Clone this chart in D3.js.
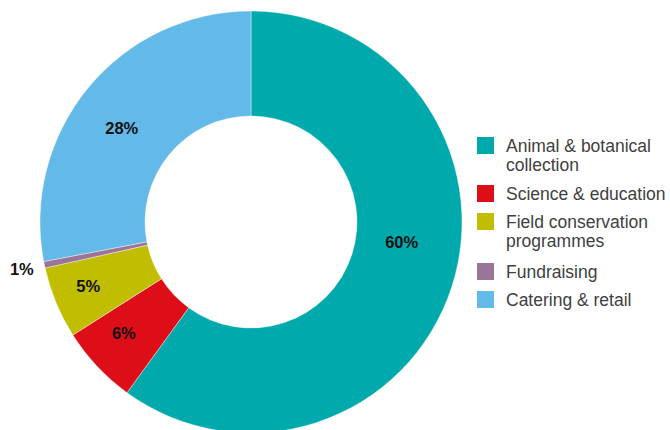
<!DOCTYPE html>
<html>
<head>
<meta charset="utf-8">
<script src="https://cdn.jsdelivr.net/npm/d3@7"></script>
<style>
  html, body { margin: 0; padding: 0; background: #fff; }
  svg { display: block; font-family: "Liberation Sans", Arial, Helvetica, sans-serif; }
</style>
</head>
<body>
<svg id="chart" width="670" height="430"></svg>
<script>
// spending split
var categories = ["Animal & botanical collection", "Science & education", "Field conservation programmes", "Fundraising", "Catering & retail"];
var legendLines = [["Animal & botanical", "collection"], ["Science & education"], ["Field conservation", "programmes"], ["Fundraising"], ["Catering & retail"]];
var values = [60, 6, 5.5, 0.5, 28];
var valueLabels = ["60%", "6%", "5%", "1%", "28%"];
var colours = ["#00a9ac", "#dd0e17", "#c1bd00", "#9b7598", "#63b9e8"];

var svg = d3.select("#chart");
var cx = 251, cy = 222;
var outerR = 211, innerR = 106;

var pie = d3.pie().sort(null).value(function(d) { return d; });
var arcs = pie(values);
var arc = d3.arc().innerRadius(innerR).outerRadius(outerR);

var g = svg.append("g").attr("transform", "translate(" + cx + "," + cy + ")");

g.selectAll("path")
  .data(arcs)
  .enter().append("path")
  .attr("d", arc)
  .attr("fill", function(d, i) { return colours[i]; })
  .attr("stroke", "#fff")
  .attr("stroke-width", 0.4);

// label placement: radius and angle nudge (degrees) per slice, like the original
var labelR = [152, 169, 175, 234, 160];
var labelTurn = [-10.5, 2, 1, 0, -3.5];

function labelAngle(d, i) {
  return (d.startAngle + d.endAngle) / 2 + labelTurn[i] * Math.PI / 180;
}

g.selectAll("text.pct")
  .data(arcs)
  .enter().append("text")
  .attr("class", "pct")
  .attr("x", function(d, i) { return Math.sin(labelAngle(d, i)) * labelR[i]; })
  .attr("y", function(d, i) { return -Math.cos(labelAngle(d, i)) * labelR[i]; })
  .attr("dy", "0.36em")
  .attr("text-anchor", "middle")
  .attr("font-size", 16.5)
  .attr("font-weight", "bold")
  .attr("fill", "#111")
  .text(function(d, i) { return valueLabels[i]; });

// legend
var rowTop = [137, 185, 213, 263, 291];
var legend = svg.append("g");
var rows = legend.selectAll("g.row")
  .data(categories)
  .enter().append("g")
  .attr("class", "row")
  .attr("transform", function(d, i) { return "translate(477," + rowTop[i] + ")"; });

rows.append("rect")
  .attr("width", 17)
  .attr("height", 17)
  .attr("fill", function(d, i) { return colours[i]; });

rows.append("text")
  .attr("x", 29)
  .attr("y", 14.5)
  .attr("font-size", 17.5)
  .attr("fill", "#404040")
  .selectAll("tspan")
  .data(function(d, i) { return legendLines[i]; })
  .enter().append("tspan")
  .attr("x", 29)
  .attr("dy", function(d, j) { return j === 0 ? 0 : 19.5; })
  .text(function(d) { return d; });
</script>
</body>
</html>
